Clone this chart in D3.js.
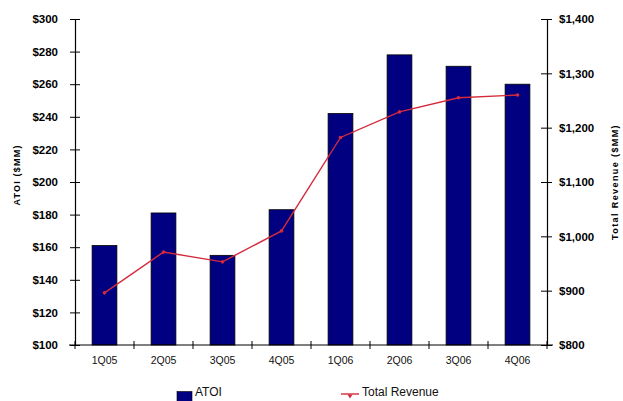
<!DOCTYPE html>
<html>
<head>
<meta charset="utf-8">
<script src="https://cdn.jsdelivr.net/npm/d3@7/dist/d3.min.js"></script>
<style>
  html, body { margin: 0; padding: 0; background: #fff; }
  svg { display: block; font-family: "Liberation Sans", Arial, sans-serif; }
</style>
</head>
<body>
<svg id="chart" width="623" height="401"></svg>
<script>
// Quarterly ATOI (bars, left axis) and Total Revenue (line, right axis), $MM
const quarters = ["1Q05", "2Q05", "3Q05", "4Q05", "1Q06", "2Q06", "3Q06", "4Q06"];
const atoi = [161, 181, 155, 183, 242, 278, 271, 260];
const totalRevenue = [896, 971, 953, 1010, 1182, 1229, 1255, 1260];
const leftTicks = [100, 120, 140, 160, 180, 200, 220, 240, 260, 280, 300];
const rightTicks = [800, 900, 1000, 1100, 1200, 1300, 1400];

const svg = d3.select("#chart");
const plot = { left: 75, right: 547, top: 19, bottom: 345 };

const x = d3.scaleBand().domain(quarters).range([plot.left, plot.right]).paddingInner(0).paddingOuter(0);
const yL = d3.scaleLinear().domain([100, 300]).range([plot.bottom, plot.top]);
const yR = d3.scaleLinear().domain([800, 1400]).range([plot.bottom, plot.top]);

const money = d3.format("$,");
const red = "#d42a3c";

// Bars
const barW = x.bandwidth() * 0.42;
svg.append("g").selectAll("rect").data(quarters).join("rect")
  .attr("x", (d) => x(d) + (x.bandwidth() - barW) / 2)
  .attr("y", (d, i) => yL(atoi[i]))
  .attr("width", barW)
  .attr("height", (d, i) => yL(100) - yL(atoi[i]))
  .attr("fill", "#000080")
  .attr("stroke", "#000")
  .attr("stroke-width", 0.8);

// Revenue line
const line = d3.line()
  .x((d, i) => x(quarters[i]) + x.bandwidth() / 2)
  .y((d) => yR(d));
svg.append("path").datum(totalRevenue)
  .attr("d", line)
  .attr("fill", "none")
  .attr("stroke", red)
  .attr("stroke-width", 1.4);
svg.append("g").selectAll("circle").data(totalRevenue).join("circle")
  .attr("cx", (d, i) => x(quarters[i]) + x.bandwidth() / 2)
  .attr("cy", (d) => yR(d))
  .attr("r", 1.8)
  .attr("fill", red);

// Left axis
const gL = svg.append("g").attr("transform", `translate(${plot.left},0)`)
  .call(d3.axisLeft(yL).tickValues(leftTicks).tickFormat(money).tickSizeInner(5).tickSizeOuter(0).tickPadding(12));
gL.selectAll(".tick line").attr("x2", 5).attr("x1", -5);
gL.selectAll("text").attr("font-size", 11.5).attr("font-weight", "bold").attr("fill", "#000")
  .attr("font-family", "Liberation Sans, Arial, sans-serif");
gL.select(".domain").attr("stroke", "#000").attr("stroke-width", 1.2);

// Right axis
const gR = svg.append("g").attr("transform", `translate(${plot.right},0)`)
  .call(d3.axisRight(yR).tickValues(rightTicks).tickFormat(money).tickSizeInner(5).tickSizeOuter(0).tickPadding(7));
gR.selectAll(".tick line").attr("x1", -6).attr("x2", 5);
gR.selectAll("text").attr("font-size", 11.5).attr("font-weight", "bold").attr("fill", "#000")
  .attr("font-family", "Liberation Sans, Arial, sans-serif");
gR.select(".domain").attr("stroke", "#000").attr("stroke-width", 1.2);

// Bottom axis with boundary ticks between quarters
const gB = svg.append("g").attr("transform", `translate(0,${plot.bottom})`);
gB.append("line").attr("x1", plot.left - 6).attr("x2", plot.right + 6)
  .attr("stroke", "#000").attr("stroke-width", 1.2);
const bounds = quarters.map((q) => x(q)).concat([plot.right]);
gB.selectAll("line.bt").data(bounds).join("line").attr("class", "bt")
  .attr("x1", (d) => d).attr("x2", (d) => d).attr("y1", -4).attr("y2", 4)
  .attr("stroke", "#000").attr("stroke-width", 1);
gB.selectAll("text").data(quarters).join("text")
  .attr("x", (d) => x(d) + x.bandwidth() / 2)
  .attr("y", 19)
  .attr("text-anchor", "middle")
  .attr("font-size", 10.5)
  .attr("fill", "#111")
  .text((d) => d);

// Axis titles
svg.append("text")
  .attr("transform", "translate(20,175) rotate(-90)")
  .attr("text-anchor", "middle")
  .attr("font-size", 9)
  .attr("font-weight", "bold")
  .attr("letter-spacing", 1.2)
  .text("ATOI ($MM)");
svg.append("text")
  .attr("transform", "translate(618,182) rotate(-90)")
  .attr("text-anchor", "middle")
  .attr("font-size", 9)
  .attr("font-weight", "bold")
  .attr("letter-spacing", 1.4)
  .text("Total Revenue ($MM)");

// Legend
const lg = svg.append("g");
lg.append("rect").attr("x", 177).attr("y", 391.5).attr("width", 15).attr("height", 10)
  .attr("fill", "#000080").attr("stroke", "#000").attr("stroke-width", 0.6);
lg.append("text").attr("x", 195).attr("y", 395.5).attr("font-size", 12).attr("fill", "#111").text("ATOI");
lg.append("line").attr("x1", 341).attr("x2", 359).attr("y1", 394).attr("y2", 394)
  .attr("stroke", red).attr("stroke-width", 1.4);
lg.append("path").attr("d", "M347.5,394.5 L352.5,394.5 L350,398.5 Z").attr("fill", red);
lg.append("text").attr("x", 362).attr("y", 395.5).attr("font-size", 12).attr("fill", "#111").text("Total Revenue");
</script>
</body>
</html>
